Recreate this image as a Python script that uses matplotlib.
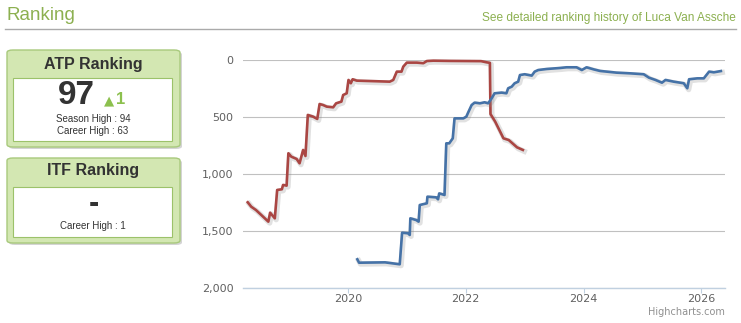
import matplotlib.pyplot as plt
from matplotlib.patches import FancyBboxPatch, Rectangle
import matplotlib.patheffects as pe

# ranking history (decimal year, rank)
atp_year = [2020.16, 2020.19, 2020.63, 2020.88, 2020.92, 2021.02, 2021.05, 2021.06, 2021.16, 2021.20,
            2021.22, 2021.34, 2021.35, 2021.50, 2021.53, 2021.55, 2021.64, 2021.67, 2021.72, 2021.78,
            2021.81, 2021.96, 2022.01, 2022.04, 2022.10, 2022.15, 2022.24, 2022.32, 2022.38, 2022.44,
            2022.49, 2022.61, 2022.69, 2022.72, 2022.78, 2022.83, 2022.89, 2022.92, 2023.00, 2023.12,
            2023.17, 2023.23, 2023.37, 2023.60, 2023.71, 2023.88, 2023.97, 2024.05, 2024.17, 2024.28,
            2024.56, 2024.79, 2025.02, 2025.11, 2025.22, 2025.33, 2025.39, 2025.53, 2025.70, 2025.76,
            2025.79, 2025.93, 2026.04, 2026.13, 2026.21, 2026.33]
atp_rank = [1748, 1778, 1775, 1792, 1515, 1520, 1535, 1389, 1404, 1418,
            1272, 1257, 1199, 1205, 1222, 1170, 1184, 731, 731, 687,
            512, 512, 497, 462, 395, 374, 380, 371, 380, 336,
            292, 286, 292, 248, 234, 204, 190, 132, 125, 137,
            102, 88, 79, 70, 64, 64, 88, 64, 82, 96,
            111, 117, 125, 155, 175, 199, 175, 190, 204, 248,
            169, 161, 161, 102, 108, 97]

itf_year = [2018.30, 2018.36, 2018.44, 2018.50, 2018.56, 2018.65, 2018.68, 2018.76, 2018.80, 2018.88,
            2018.90, 2018.96, 2018.99, 2019.04, 2019.13, 2019.18, 2019.24, 2019.28, 2019.32, 2019.41,
            2019.48, 2019.52, 2019.58, 2019.64, 2019.75, 2019.80, 2019.89, 2019.92, 2019.98, 2020.01,
            2020.05, 2020.08, 2020.15, 2020.71, 2020.77, 2020.83, 2020.91, 2020.94, 2021.00, 2021.17,
            2021.28, 2021.34, 2021.45, 2021.72, 2022.26, 2022.35, 2022.41, 2022.42, 2022.50, 2022.64,
            2022.73, 2022.87, 2022.97]
itf_rank = [1248, 1287, 1316, 1345, 1374, 1418, 1339, 1389, 1140, 1134,
            1096, 1102, 818, 848, 868, 906, 789, 842, 482, 497,
            517, 386, 395, 409, 415, 380, 365, 307, 292, 175,
            204, 169, 181, 190, 175, 102, 102, 58, 23, 23,
            28, 9, 6, 8, 10, 20, 25, 474, 541, 687,
            702, 766, 789]

year_ticks = [2020, 2022, 2024, 2026]
rank_ticks = [0, 500, 1000, 1500, 2000]

plt.rcParams['font.family'] = ['Liberation Sans', 'DejaVu Sans']
green = '#8cb050'
dark = '#333333'

fig = plt.figure(figsize=(7.41, 3.23), dpi=100)
W, H = 741, 323

def fx(x):
    return x / W

def fy(y):
    return 1 - y / H

# header
fig.text(fx(7), fy(16), 'Ranking', color=green, fontsize=13.5, va='center', ha='left')
fig.text(fx(736), fy(18), 'See detailed ranking history of Luca Van Assche', color=green,
         fontsize=8.6, va='center', ha='right')
fig.add_artist(plt.Line2D([fx(5), fx(736)], [fy(29), fy(29)], color='#aaaaaa', lw=1))

# ranking boxes
def box(y0, y1, iy0, iy1):
    shadow = FancyBboxPatch((fx(9), fy(y1 + 2)), fx(173), (y1 - y0) / H,
                            boxstyle='round,pad=0,rounding_size=0.008', transform=fig.transFigure,
                            fc='#b8b8b8', ec='none', alpha=0.6)
    fig.add_artist(shadow)
    outer = FancyBboxPatch((fx(7), fy(y1)), fx(173), (y1 - y0) / H,
                           boxstyle='round,pad=0,rounding_size=0.008', transform=fig.transFigure,
                           fc='#d3e7b2', ec='#a8c97c', lw=1)
    fig.add_artist(outer)
    inner = Rectangle((fx(13), fy(iy1)), fx(159), (iy1 - iy0) / H, transform=fig.transFigure,
                      fc='white', ec='#9cc26a', lw=0.8)
    fig.add_artist(inner)

box(50, 147, 78, 141)
box(158, 243, 187, 237)

fig.text(fx(93), fy(64), 'ATP Ranking', fontsize=11.5, weight='bold', color=dark, ha='center', va='center')
fig.text(fx(76), fy(95), '97', fontsize=24, weight='bold', color=dark, ha='center', va='center')
fig.text(fx(109), fy(101), '\u25B2', fontsize=9.5, color='#8cc04e', ha='center', va='center',
         family=['DejaVu Sans'])
fig.text(fx(116), fy(99.5), '1', fontsize=12, weight='bold', color='#8cc04e', ha='left', va='center')
fig.text(fx(93), fy(119), 'Season High : 94', fontsize=7, color=dark, ha='center', va='center')
fig.text(fx(93), fy(131), 'Career High : 63', fontsize=7, color=dark, ha='center', va='center')

fig.text(fx(93), fy(171), 'ITF Ranking', fontsize=11.5, weight='bold', color=dark, ha='center', va='center')
fig.text(fx(94), fy(204), '-', fontsize=22, weight='bold', color=dark, ha='center', va='center')
fig.text(fx(93), fy(226), 'Career High : 1', fontsize=7, color=dark, ha='center', va='center')

# chart
ax = fig.add_axes([fx(243), fy(288), fx(725) - fx(243), fy(60) - fy(288)])
shadow = [pe.SimpleLineShadow(offset=(1, -1), shadow_color='#888888', alpha=0.25, linewidth=3.8), pe.Normal()]
ax.plot(itf_year, itf_rank, color='#aa4643', lw=1.9, clip_on=False, path_effects=shadow, zorder=3)
ax.plot(atp_year, atp_rank, color='#4572a7', lw=1.9, clip_on=False, path_effects=shadow, zorder=3)

ax.set_xlim(2018.22, 2026.40)
ax.set_ylim(2000, 0)
ax.set_yticks(rank_ticks)
ax.set_yticklabels([f'{v:,}' for v in rank_ticks], family='DejaVu Sans')
ax.set_xticks(year_ticks)
ax.set_xticklabels([str(v) for v in year_ticks], family='DejaVu Sans')
ax.grid(axis='y', color='#c0c0c0', lw=0.8)
ax.set_axisbelow(True)
for s in ['top', 'right', 'left']:
    ax.spines[s].set_visible(False)
ax.spines['bottom'].set_color('#c0d0e0')
ax.spines['bottom'].set_linewidth(1)
ax.tick_params(axis='y', length=0, pad=7, labelsize=8, labelcolor='#606060')
ax.tick_params(axis='x', length=3.5, color='#c0d0e0', pad=0.5, labelsize=8, labelcolor='#606060')

fig.text(fx(725), fy(312), 'Highcharts.com', fontsize=7, color='#909090', ha='right', va='center',
         family='DejaVu Sans')

fig.savefig('out.png', dpi=100)
